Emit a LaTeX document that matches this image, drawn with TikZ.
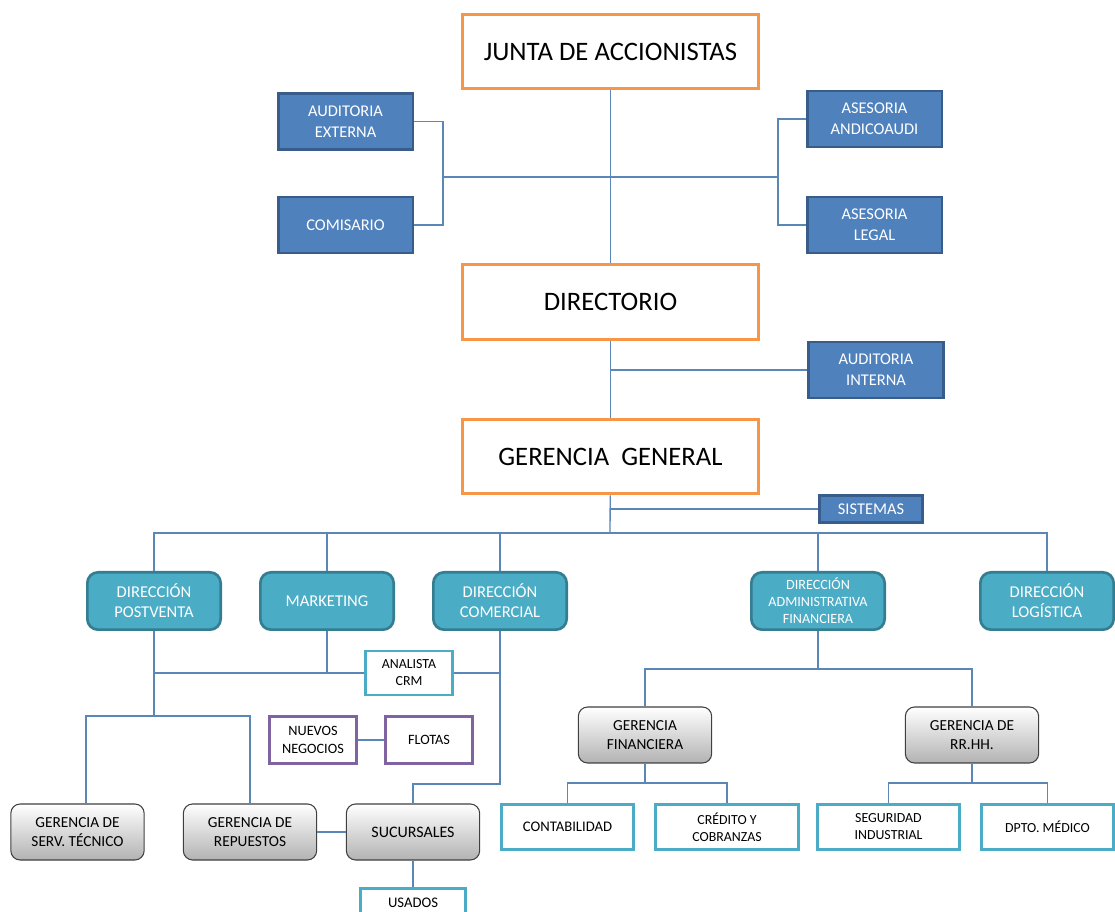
\documentclass[tikz,border=0pt]{standalone}
\usepackage{fontspec}
\setmainfont{Carlito}
\definecolor{naranja}{HTML}{F79646}
\definecolor{azul}{HTML}{4F81BD}
\definecolor{azulosc}{HTML}{385D8A}
\definecolor{turq}{HTML}{4BACC6}
\definecolor{turqosc}{HTML}{357D91}
\definecolor{morado}{HTML}{8064A2}
\definecolor{conector}{HTML}{5A86B8}
\begin{document}
\begin{tikzpicture}[x=0.75pt, y=-0.75pt, inner sep=2pt,
    linea/.style={draw=conector, line width=1pt},
    jefatura/.style={draw=naranja, line width=2.2pt, fill=white, minimum width=222pt, minimum height=56pt, font=\fontsize{20}{22}\selectfont},
    asesor/.style={draw=azulosc, line width=2pt, fill=azul, text=white, minimum width=101pt, minimum height=42pt, align=center, font=\fontsize{12.3}{15.8}\selectfont},
    direccion/.style={draw=turqosc, line width=2pt, fill=turq, text=white, rounded corners=8pt, minimum width=100pt, minimum height=43pt, align=center, font=\fontsize{12.4}{15}\selectfont},
    gerencia/.style={draw=black!75, line width=0.8pt, top color=white, bottom color=black!30, rounded corners=7pt, minimum width=100pt, minimum height=42pt, align=center, font=\fontsize{11.5}{13.8}\selectfont},
    area/.style={draw=turq, line width=2.2pt, fill=white, minimum width=99pt, minimum height=34pt, align=center, font=\fontsize{10.4}{12.8}\selectfont},
    proyecto/.style={draw=morado, line width=2pt, fill=white, minimum width=65pt, minimum height=35pt, align=center, font=\fontsize{10.7}{13}\selectfont}]
    \useasboundingbox (0,0) rectangle (1115,912);
    \clip (0,0) rectangle (1115,912);
    % Junta, directorio y gerencia
    \node[jefatura] (junta) at (610.5,51.5) {JUNTA DE ACCIONISTAS};
    \node[jefatura] (directorio) at (610.5,302) {DIRECTORIO};
    \node[jefatura] (gerenciaG) at (610.5,456.5) {GERENCIA~~GENERAL};
    % Asesores
    \node[asesor] (audExt) at (345.5,121.5) {AUDITORIA\\EXTERNA};
    \node[asesor] (comisario) at (345.5,225) {COMISARIO};
    \node[asesor] (asesAndi) at (874.5,119) {ASESORIA\\ANDICOAUDI};
    \node[asesor] (asesLegal) at (874.5,225) {ASESORIA\\LEGAL};
    \node[asesor] (audInt) at (876,370) {AUDITORIA\\INTERNA};
    \node[asesor, minimum width=77.5pt, minimum height=20.5pt] (sistemas) at (871,509) {SISTEMAS};
    % Direcciones
    \node[direccion] (dirPost) at (154,601) {DIRECCIÓN\\POSTVENTA};
    \node[direccion] (marketing) at (327,601) {MARKETING};
    \node[direccion, font=\fontsize{10.6}{12.8}\selectfont] (dirAdm) at (818,601) {DIRECCIÓN\\ADMINISTRATIVA\\FINANCIERA};
    \node[direccion] (dirCom) at (500,601) {DIRECCIÓN\\COMERCIAL};
    \node[direccion] (dirLog) at (1047,601) {DIRECCIÓN\\LOGÍSTICA};
    % Gerencias
    \node[gerencia] (gerTec) at (77.5,832) {GERENCIA DE\\SERV. TÉCNICO};
    \node[gerencia] (gerRep) at (250,832) {GERENCIA DE\\REPUESTOS};
    \node[gerencia, font=\fontsize{12}{14}\selectfont] (sucursales) at (413,832) {SUCURSALES};
    \node[gerencia] (gerFin) at (645,735) {GERENCIA\\FINANCIERA};
    \node[gerencia] (gerRRHH) at (972,735) {GERENCIA DE\\RR.HH.};
    % Areas
    \node[area, minimum width=65.5pt, minimum height=33pt] (analista) at (409,673) {ANALISTA\\CRM};
    \node[area, minimum width=79pt, minimum height=22pt, font=\fontsize{11}{13}\selectfont] (usados) at (413,903) {USADOS};
    \node[area, font=\fontsize{11}{13}\selectfont] (contab) at (567.5,827) {CONTABILIDAD};
    \node[area, minimum width=107pt] (credito) at (727,827) {CRÉDITO Y\\COBRANZAS};
    \node[area, minimum width=107pt] (seguridad) at (888.5,827) {SEGURIDAD\\INDUSTRIAL};
    \node[area] (medico) at (1047.5,827) {DPTO. MÉDICO};
    \node[proyecto] (nuevos) at (313,740) {NUEVOS\\NEGOCIOS};
    \node[proyecto] (flotas) at (429,740) {FLOTAS};
    % Conectores superiores
    \coordinate (jIzq) at (443,177);
    \coordinate (jDer) at (778,177);
    \coordinate (bus) at (610,533);
    \draw[linea] (junta) -- (directorio);
    \draw[linea] (directorio) -- (gerenciaG);
    \draw[linea] (audExt.east) -| (jIzq);
    \draw[linea] (comisario.east) -| (jIzq);
    \draw[linea] (jIzq) -- (jDer);
    \draw[linea] (asesAndi.west) -| (jDer);
    \draw[linea] (asesLegal.west) -| (jDer);
    \draw[linea] (audInt.west) -- (audInt.west -| directorio);
    \draw[linea] (sistemas.west) -- (sistemas.west -| gerenciaG);
    \draw[linea] (gerenciaG) -- (bus);
    \foreach \n in {dirPost,marketing,dirCom,dirAdm,dirLog} {
        \draw[linea] (\n.north) |- (bus);
    }
    % Conectores postventa y comercial
    \coordinate (lPV) at (154,673);
    \coordinate (lRep) at (154,716);
    \coordinate (lTec) at (86,716);
    \coordinate (lSuc) at (413,784);
    \draw[linea] (dirPost) -- (lRep);
    \draw[linea] (lPV) -- (analista.west);
    \draw[linea] (marketing) -- (marketing |- lPV);
    \draw[linea] (analista.east) -- (analista.east -| dirCom);
    \draw[linea] (lTec |- gerTec.north) -- (lTec) -| (gerRep.north);
    \draw[linea] (dirCom) |- (lSuc) -- (sucursales);
    \draw[linea] (gerRep) -- (sucursales);
    \draw[linea] (sucursales) -- (usados);
    \draw[linea] (nuevos) -- (flotas);
    % Conectores administrativa financiera
    \coordinate (lAdm) at (818,669);
    \coordinate (lFin) at (645,783);
    \coordinate (lRH) at (972,783);
    \draw[linea] (dirAdm) -- (lAdm);
    \draw[linea] (gerFin.north) |- (lAdm) -| (gerRRHH.north);
    \draw[linea] (gerFin) -- (lFin);
    \draw[linea] (contab.north) |- (lFin) -| (credito.north);
    \draw[linea] (gerRRHH) -- (lRH);
    \draw[linea] (seguridad.north) |- (lRH) -| (medico.north);
\end{tikzpicture}
\end{document}
